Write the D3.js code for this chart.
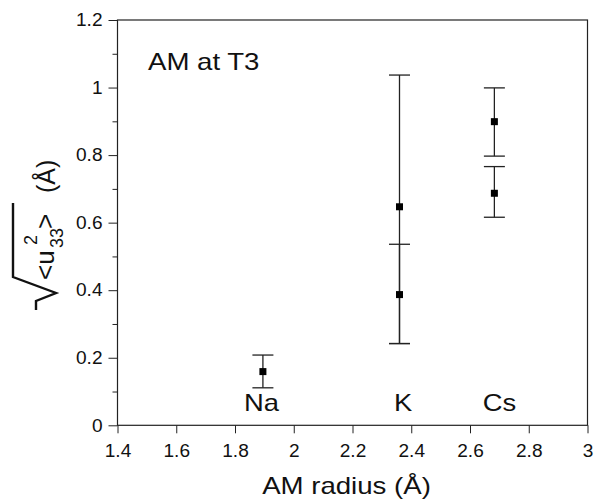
<!DOCTYPE html>
<html>
<head>
<meta charset="utf-8">
<script src="https://cdn.jsdelivr.net/npm/d3@7"></script>
<style>
  body { margin: 0; background: #fff; }
  text { font-family: Arial, "Liberation Sans", sans-serif; fill: #111; }
</style>
</head>
<body>
<div id="chart"></div>
<script>
// values
const radius  = [1.895, 2.36, 2.36, 2.683, 2.683];
const u33     = [0.159, 0.647, 0.387, 0.899, 0.687];
const errLow  = [0.111, 0.242, 0.242, 0.797, 0.616];
const errHigh = [0.208, 1.037, 0.536, 0.999, 0.766];

const elementNames = ["Na", "K", "Cs"];
const labelX = [1.89, 2.372, 2.70];

const xTicks = [1.4, 1.6, 1.8, 2, 2.2, 2.4, 2.6, 2.8, 3];
const yTicks = [0, 0.2, 0.4, 0.6, 0.8, 1, 1.2];
const yMinor = [0.1, 0.3, 0.5, 0.7, 0.9, 1.1];

const width = 595, height = 501;
const margin = { top: 20, right: 7.5, bottom: 75.7, left: 117.5 };

const svg = d3.select("#chart").append("svg")
    .attr("width", width)
    .attr("height", height);

const x = d3.scaleLinear()
    .domain([1.4, 3])
    .range([margin.left, width - margin.right]);

const y = d3.scaleLinear()
    .domain([0, 1.2])
    .range([height - margin.bottom, margin.top]);

const fmt = d => String(+d.toFixed(1));

// stretch text horizontally, the scanned lettering is wider than Arial
function widen(sel, k) {
    sel.each(function() {
        const w = this.getComputedTextLength();
        d3.select(this).attr("textLength", w * k).attr("lengthAdjust", "spacingAndGlyphs");
    });
}

// y axis
const gy = svg.append("g")
    .attr("transform", `translate(${margin.left},0)`)
    .call(d3.axisLeft(y).tickValues(yTicks).tickSize(9).tickPadding(6).tickSizeOuter(0).tickFormat(fmt));
gy.select(".domain").remove();
gy.selectAll("line").attr("stroke", "#222");
gy.selectAll("text").style("font-size", "18px").attr("fill", "#111");
widen(gy.selectAll("text"), 1.06);

const gyMinor = svg.append("g")
    .attr("transform", `translate(${margin.left},0)`)
    .call(d3.axisLeft(y).tickValues(yMinor).tickSize(5).tickSizeOuter(0).tickFormat(""));
gyMinor.select(".domain").remove();
gyMinor.selectAll("line").attr("stroke", "#222");

// x axis
const gx = svg.append("g")
    .attr("transform", `translate(0,${height - margin.bottom})`)
    .call(d3.axisBottom(x).tickValues(xTicks).tickSize(8).tickPadding(11).tickSizeOuter(0).tickFormat(fmt));
gx.select(".domain").remove();
gx.selectAll("line").attr("stroke", "#222");
gx.selectAll("text").style("font-size", "18px").attr("fill", "#111");
widen(gx.selectAll("text"), 1.06);

// frame
svg.append("rect")
    .attr("x", margin.left)
    .attr("y", margin.top)
    .attr("width", width - margin.left - margin.right)
    .attr("height", height - margin.top - margin.bottom)
    .attr("fill", "none")
    .attr("stroke", "#222")
    .attr("stroke-width", 1.2);

// error bars
const idx = d3.range(radius.length);
const cap = 10.5;

const bars = svg.append("g").attr("stroke", "#222").attr("stroke-width", 1.3);
bars.selectAll(".stem").data(idx).enter().append("line")
    .attr("x1", i => x(radius[i])).attr("x2", i => x(radius[i]))
    .attr("y1", i => y(errLow[i])).attr("y2", i => y(errHigh[i]));
bars.selectAll(".capHi").data(idx).enter().append("line")
    .attr("x1", i => x(radius[i]) - cap).attr("x2", i => x(radius[i]) + cap)
    .attr("y1", i => y(errHigh[i])).attr("y2", i => y(errHigh[i]));
bars.selectAll(".capLo").data(idx).enter().append("line")
    .attr("x1", i => x(radius[i]) - cap).attr("x2", i => x(radius[i]) + cap)
    .attr("y1", i => y(errLow[i])).attr("y2", i => y(errLow[i]));

// markers
svg.selectAll(".pt").data(idx).enter().append("rect")
    .attr("x", i => x(radius[i]) - 3.5)
    .attr("y", i => y(u33[i]) - 3.5)
    .attr("width", 7)
    .attr("height", 7)
    .attr("fill", "#000");

// element names
const names = svg.selectAll(".name").data(elementNames).enter().append("text")
    .attr("x", (d, i) => x(labelX[i]))
    .attr("y", y(0.042))
    .attr("text-anchor", "middle")
    .style("font-size", "24px")
    .text(d => d);
widen(names, 1.14);

// panel title
const title = svg.append("text")
    .attr("x", 148)
    .attr("y", 70)
    .style("font-size", "24px")
    .text("AM at T3");
widen(title, 1.15);

// x label
const xl = svg.append("text")
    .attr("x", 346.5)
    .attr("y", 494)
    .attr("text-anchor", "middle")
    .style("font-size", "24px")
    .text("AM radius (Å)");
widen(xl, 1.15);

// y label: sqrt(<u_33^2>) (Å), rotated
const yl = svg.append("g").attr("transform", "translate(54,307) rotate(-90)");
yl.append("path")
    .attr("d", "M-3,-18 L6,-18 L14,2 L30,-41 L104,-41")
    .attr("fill", "none")
    .attr("stroke", "#111")
    .attr("stroke-width", 2.4)
    .attr("stroke-linejoin", "miter");
yl.append("text").attr("x", 27).attr("y", 0).style("font-size", "26px").text("<u");
yl.append("text").attr("x", 62).attr("y", -17).style("font-size", "18px").text("2");
yl.append("text").attr("x", 59).attr("y", 9).style("font-size", "18px").text("33");
yl.append("text").attr("x", 78).attr("y", 0).style("font-size", "26px").text(">");
yl.append("text").attr("x", 114).attr("y", 1).style("font-size", "25px").text("(Å)");
</script>
</body>
</html>
